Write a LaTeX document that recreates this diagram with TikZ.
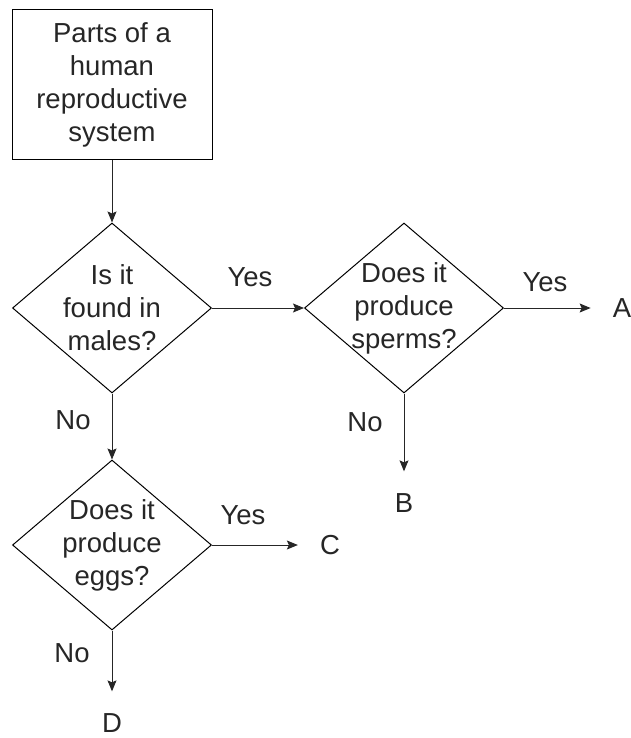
\documentclass[tikz,border=0pt]{standalone}
\usepackage{fontspec}
\setmainfont{Liberation Sans}
\usetikzlibrary{shapes.geometric,arrows.meta}

\begin{document}
\begin{tikzpicture}[x=1pt,y=-1pt,>={Stealth[length=11pt,width=9pt,inset=2pt]},
	font=\fontsize{27.5}{33}\selectfont, text=black!85,
	startbox/.style={draw, line width=1pt, minimum width=200pt, minimum height=150pt, align=center},
	ask/.style={draw, diamond, aspect=1.17, line width=1pt, inner sep=-15pt, minimum width=199pt, minimum height=170pt, align=center},
	ans/.style={inner sep=0pt},
	flow/.style={->, line width=1pt, draw=black!85}]

	% page frame
	\useasboundingbox (0,0) rectangle (631,738);

	% start
	\node[startbox] (parts) at (112,85) {Parts of a\\human\\reproductive\\system};

	% questions
	\node[ask] (males) at (112,308) {Is it\\found in\\males?};
	\node[ask] (sperms) at (404,308) {Does it\\produce\\sperms?};
	\node[ask] (eggs) at (112,545) {Does it\\produce\\eggs?};

	% answers
	\node[ans] (A) at (622,308) {A};
	\node[ans] (B) at (404,503) {B};
	\node[ans] (C) at (330,545) {C};
	\node[ans] (D) at (112,723) {D};

	% connectors
	\draw[flow] (parts) -- (males);
	\draw[flow] (males) -- (sperms);
	\draw[flow] (males) -- (eggs);
	\draw[flow, shorten >=22pt] (sperms) -- (A);
	\draw[flow, shorten >=22pt] (sperms) -- (B);
	\draw[flow, shorten >=22pt] (eggs) -- (C);
	\draw[flow, shorten >=22pt] (eggs) -- (D);

	% yes / no
	\node (yes1) at (250,277) {Yes};
	\node (yes2) at (545,282) {Yes};
	\node (yes3) at (243,515) {Yes};
	\node (no1) at (73,420) {No};
	\node (no2) at (365,422) {No};
	\node (no3) at (72,653) {No};

\end{tikzpicture}
\end{document}
